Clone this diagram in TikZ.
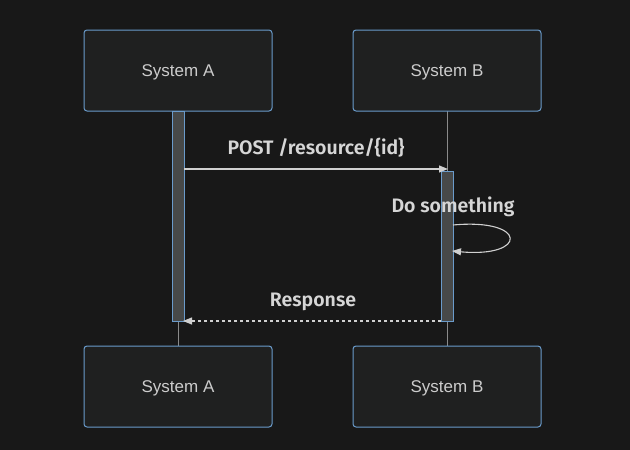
\documentclass[tikz,border=0pt]{standalone}
\usepackage{fontspec}
\setmainfont{Liberation Sans}
\newfontfamily\msgfont{Fira Sans}[UprightFont={* SemiBold}]
\usetikzlibrary{arrows.meta}
\definecolor{bg}{HTML}{181818}
\definecolor{boxfill}{HTML}{1F2020}
\definecolor{boxline}{HTML}{6A9BCB}
\definecolor{actfill}{HTML}{474949}
\definecolor{txt}{HTML}{CCCCCC}
\definecolor{msgtxt}{HTML}{D6D6D6}
\definecolor{lifeline}{HTML}{8A8A8A}
\definecolor{arrowcol}{HTML}{D0D0D0}
\tikzset{
  actor/.style={draw=boxline, fill=boxfill, line width=1pt, rounded corners=3pt,
    minimum width=188pt, minimum height=81pt, inner sep=0pt, text=txt,
    font=\fontsize{17}{19}\selectfont, text height=12.2pt, text depth=0pt},
  activation/.style={draw=boxline, fill=actfill, line width=0.5pt, minimum width=12pt, inner sep=0pt},
  lline/.style={draw=lifeline, line width=0.6pt},
  msg/.style={draw=arrowcol, line width=1.2pt, -{Triangle[length=9pt,width=7pt]}},
  msglabel/.style={text=msgtxt, font=\msgfont\fontsize{19.5}{22}\selectfont, inner sep=0pt,
    text height=13.4pt, text depth=0pt}
}
\begin{document}
\begin{tikzpicture}[x=1pt,y=-1pt]
\fill[bg] (0,0) rectangle (630,450);
\useasboundingbox (0,0) rectangle (630,450);
% lifelines
\coordinate (la1) at (178,111);
\coordinate (la2) at (178,346);
\coordinate (lb1) at (447,111);
\coordinate (lb2) at (447,346);
\draw[lline] (la1) -- (la2);
\draw[lline] (lb1) -- (lb2);
% actors
\node[actor] (At) at (178,70.5) {System A};
\node[actor] (Bt) at (447,70.5) {System B};
\node[actor] (Ab) at (178,386.5) {System A};
\node[actor] (Bb) at (447,386.5) {System B};
% activations
\node[activation, minimum height=210pt] (actA) at (178,216) {};
\node[activation, minimum height=150pt] (actB) at (447,246) {};
% POST message
\coordinate (p1) at (184,169);
\coordinate (p2) at (448,169);
\draw[msg] (p1) -- (p2);
\node[msglabel] (postlbl) at (316,148) {POST /resource/\{id\}};
% self message
\coordinate (s1) at (453,225);
\coordinate (s2) at (452,251);
\draw[msg, line width=1.1pt] (s1) .. controls (528,218) and (528,258) .. (s2);
\node[msglabel] (dolbl) at (453,206) {Do something};
% response
\coordinate (r1) at (441,321);
\coordinate (r2) at (183,321);
\draw[msg, dashed, dash pattern=on 3pt off 3pt] (r1) -- (r2);
\node[msglabel] (resplbl) at (313,300) {Response};
\end{tikzpicture}
\end{document}
